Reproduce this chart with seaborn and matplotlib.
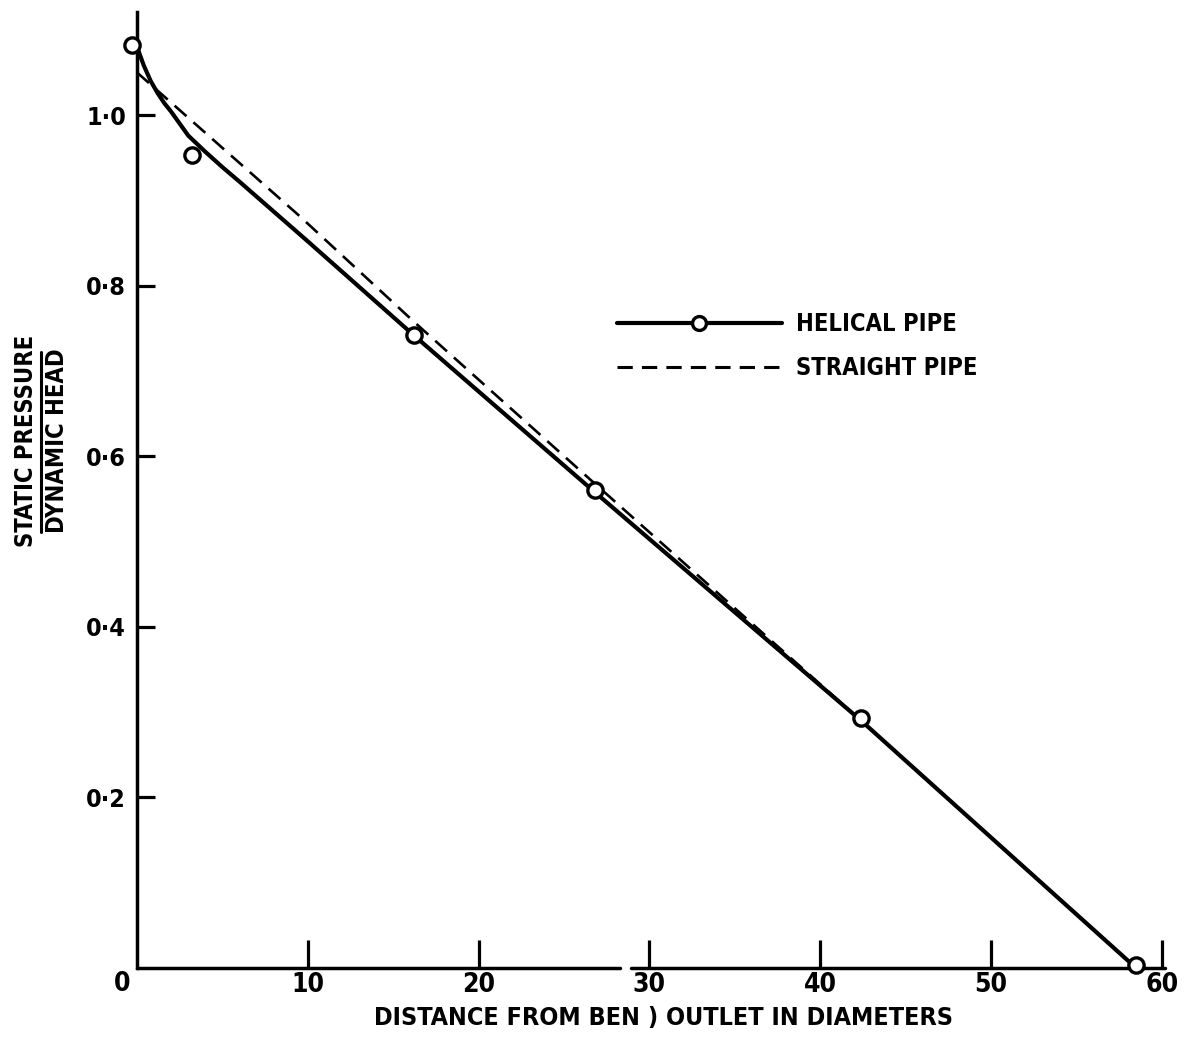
import matplotlib
matplotlib.use("Agg")
import matplotlib.pyplot as plt
from matplotlib.lines import Line2D
import seaborn as sns
import pandas as pd

# ---- data ----
helical_pts_x = [-0.3, 3.2, 16.2, 26.8, 42.4, 58.5]
helical_pts_y = [1.082, 0.953, 0.742, 0.560, 0.293, 0.003]

helical_curve_x = [0.0, 0.4, 0.8, 1.2, 1.6, 2.0, 2.5, 3.0, 4.0, 5.0, 6.0, 10.0, 16.2, 26.8, 42.4, 58.5]
helical_curve_y = [1.080, 1.058, 1.040, 1.026, 1.014, 1.004, 0.990, 0.976, 0.957, 0.939, 0.922,
                   0.852, 0.742, 0.558, 0.290, 0.0]

straight_x = [0.0, 9.5, 16.2, 26.8, 42.4, 58.5]
straight_y = [1.050, 0.882, 0.758, 0.568, 0.290, 0.0]

x_ticks = [10, 20, 30, 40, 50, 60]
x_ticklabels = ["10", "20", "30", "40", "50", "60"]
y_ticks = [0.2, 0.4, 0.6, 0.8, 1.0]
y_ticklabels = ["0·2", "0·4", "0·6", "0·8", "1·0"]

sns.set_theme(style="white")
FONT = ["DejaVu Sans"]
plt.rcParams["font.family"] = FONT
plt.rcParams["font.weight"] = "bold"
plt.rcParams["font.stretch"] = "condensed"
plt.rcParams["text.color"] = "black"
plt.rcParams["xtick.color"] = "black"
plt.rcParams["ytick.color"] = "black"
plt.rcParams["axes.labelcolor"] = "black"

fig = plt.figure(figsize=(12, 10.4), dpi=100)
ax = fig.add_axes([0.1142, 0.0692, 0.8568, 0.9193])

curve_df = pd.DataFrame({"x": helical_curve_x, "y": helical_curve_y})
str_df = pd.DataFrame({"x": straight_x, "y": straight_y})
pts_df = pd.DataFrame({"x": helical_pts_x, "y": helical_pts_y})

sns.lineplot(data=str_df, x="x", y="y", ax=ax, color="black", lw=1.9,
             linestyle=(0, (6, 3.5)), sort=False, clip_on=False)
sns.lineplot(data=curve_df, x="x", y="y", ax=ax, color="black", lw=3.0,
             sort=False, clip_on=False)
ax.plot(pts_df["x"], pts_df["y"], ls="none", marker="o", ms=11, mfc="white",
        mec="black", mew=2.4, clip_on=False, zorder=5)

ax.set_xlim(0, 60.2)
ax.set_ylim(0, 1.121)

for s in ["top", "right", "bottom"]:
    ax.spines[s].set_visible(False)
ax.spines["left"].set_linewidth(2.5)
ax.spines["left"].set_color("black")
# x axis line with the small break seen in the reference
ax.plot([0, 28.3], [0, 0], color="black", lw=2.5, clip_on=False, zorder=4)
ax.plot([28.9, 60.2], [0, 0], color="black", lw=2.5, clip_on=False, zorder=4)

ax.set_xticks(x_ticks)
ax.set_xticklabels(x_ticklabels)
ax.set_yticks(y_ticks)
ax.set_yticklabels(y_ticklabels)
ax.tick_params(axis="x", direction="in", length=20, width=2.3,
               labelsize=19, pad=3, bottom=True)
ax.tick_params(axis="y", direction="in", length=13, width=2.3,
               labelsize=18, pad=8, left=True)
for lab in ax.get_xticklabels() + ax.get_yticklabels():
    lab.set_fontweight("bold")
    lab.set_fontstretch("condensed")
ax.text(-0.9, -0.004, "0", transform=ax.transData, ha="center", va="top",
        fontsize=19, fontweight="bold", fontstretch="condensed")

ax.set_xlabel("")
ax.set_ylabel("")
fig.text(0.5525, 1 - 1030 / 1040, "DISTANCE FROM BEN ) OUTLET IN DIAMETERS", ha="center",
         va="bottom", fontsize=18, fontweight="bold", fontstretch="condensed")

# y label as a fraction
fig.text(0.0215, 1 - 441 / 1040, "STATIC PRESSURE", rotation=90, ha="center",
         va="center", fontsize=17, fontweight="bold", fontstretch="condensed")
fig.text(0.0475, 1 - 441 / 1040, "DYNAMIC HEAD", rotation=90, ha="center",
         va="center", fontsize=17, fontweight="bold", fontstretch="condensed")
fig.add_artist(Line2D([0.0345, 0.0345], [1 - 532 / 1040, 1 - 352 / 1040],
                      transform=fig.transFigure, color="black", lw=2.2))

handles = [
    Line2D([], [], color="black", lw=3.0, marker="o", ms=10, mfc="white",
           mec="black", mew=2.4),
    Line2D([], [], color="black", lw=2.2, linestyle=(0, (5, 3))),
]
leg = ax.legend(handles, ["HELICAL PIPE", "STRAIGHT PIPE"], loc="upper left",
                bbox_to_anchor=(0.446, 0.708), frameon=False, numpoints=1,
                handlelength=7.0, handletextpad=0.6, labelspacing=0.85,
                prop={"family": FONT, "weight": "bold", "size": 17,
                      "stretch": "condensed"})

fig.savefig("out.png", dpi=100)
